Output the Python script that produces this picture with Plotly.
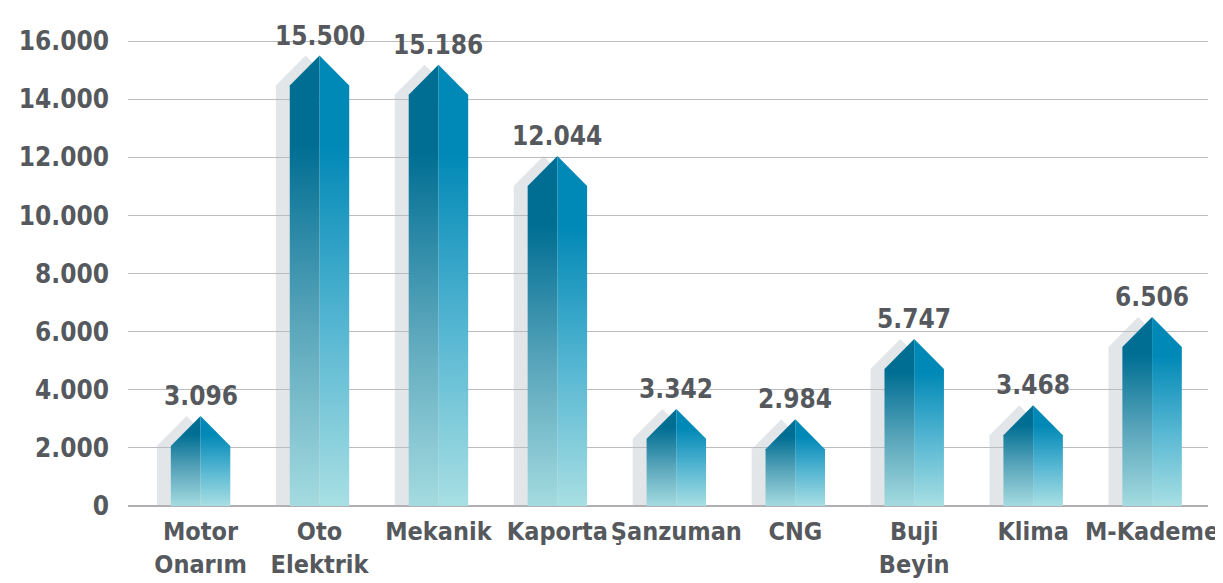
import plotly.graph_objects as go

categories = ["Motor<br>Onarım", "Oto<br>Elektrik", "Mekanik", "Kaporta", "Şanzuman",
              "CNG", "Buji<br>Beyin", "Klima", "M-Kademe"]
values = [3096, 15500, 15186, 12044, 3342, 2984, 5747, 3468, 6506]
y_ticks = [0, 2000, 4000, 6000, 8000, 10000, 12000, 14000, 16000]

HALF = 0.25        # half width of an arrow body, in category units
SHIFT = 0.117      # left offset of the grey shadow
TIP = 1030         # height of the arrow head, in data units
TEXT = "#55595d"
FONT = "DejaVu Sans Condensed"

LEFT_SCALE = [[0, "#a4dbe0"], [0.4, "#5aa6bb"], [0.8, "#006e93"], [1, "#006e93"]]
RIGHT_SCALE = [[0, "#a8dfe3"], [0.4, "#55b6d2"], [0.8, "#0088b6"], [1, "#0088b6"]]


def fmt(v):
    return f"{v:,}".replace(",", ".")


fig = go.Figure()
shapes = []
for i, v in enumerate(values):
    body = v - TIP
    # grey shadow behind the arrow (under the gridlines)
    x0, x1, xc = i - HALF - SHIFT, i + HALF - SHIFT, i - SHIFT
    shapes.append(dict(
        type="path", layer="below", line=dict(width=0), fillcolor="#e3e6e9",
        path=f"M {x0},0 L {x0},{body} L {xc},{v} L {x1},{body} L {x1},0 Z",
    ))
    # left (dark) half, then right (light) half of the arrow
    halves = [
        ([i - HALF, i - HALF, i, i, i - HALF], [0, body, v, 0, 0], LEFT_SCALE),
        ([i, i, i + HALF, i + HALF, i], [0, v, body, 0, 0], RIGHT_SCALE),
    ]
    for xs, ys, scale in halves:
        fig.add_trace(go.Scatter(
            x=xs, y=ys, mode="lines", fill="toself",
            line=dict(width=0), hoverinfo="skip", showlegend=False,
            fillgradient=dict(type="vertical", colorscale=scale),
        ))
    fig.add_annotation(x=i, y=v, text=fmt(v), showarrow=False, yanchor="bottom",
                       yshift=3, font=dict(family=FONT, size=26, color=TEXT, weight="bold"))

# the page body has an 8px margin, so the figure is sized/margined to compensate
fig.update_layout(
    width=1215, height=575,
    margin=dict(l=120, r=15, t=2, b=77),
    paper_bgcolor="white", plot_bgcolor="white",
    shapes=shapes,
    font=dict(family=FONT, color=TEXT),
    xaxis=dict(
        tickvals=list(range(len(categories))), ticktext=categories,
        range=[-0.61, 8.47], showgrid=False, zeroline=False,
        tickfont=dict(size=25, weight="bold", color=TEXT),
        ticklabelstandoff=8, automargin=False,
    ),
    yaxis=dict(
        tickvals=y_ticks, ticktext=[fmt(t) for t in y_ticks],
        range=[0, 17070], showgrid=True, gridcolor="#bcbcc0", gridwidth=1.3,
        zeroline=True, zerolinecolor="#b0b0b4", zerolinewidth=2,
        tickfont=dict(size=26, weight="bold", color=TEXT),
        ticklabelstandoff=18, automargin=False,
    ),
)

fig.write_html("out.html")
